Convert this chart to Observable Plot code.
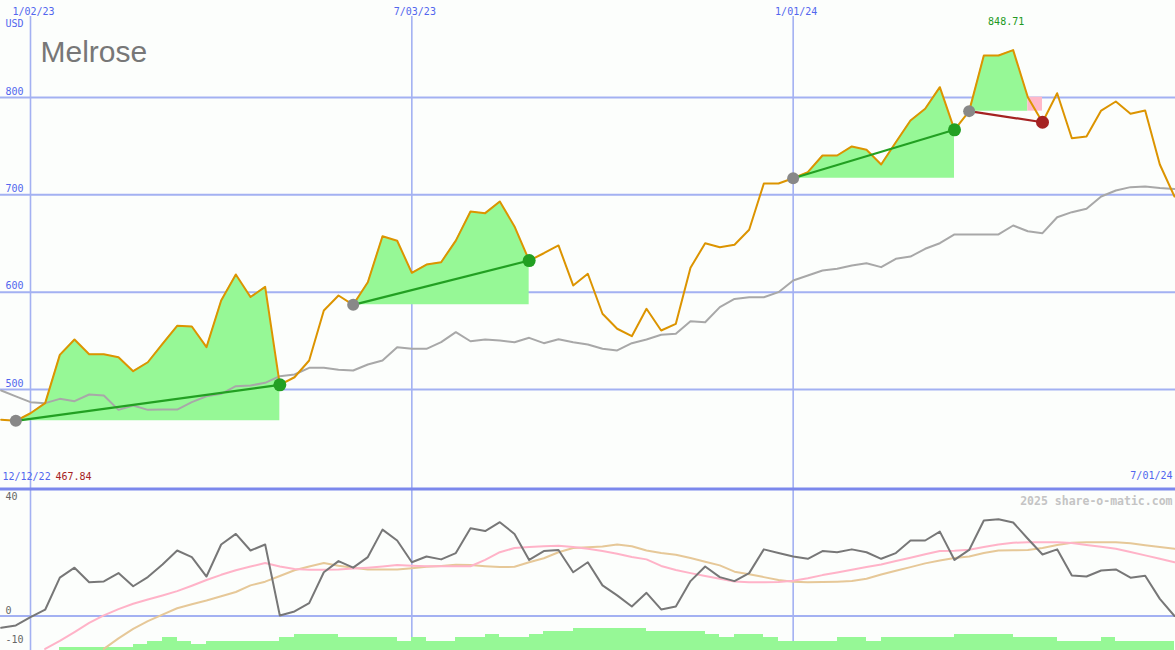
<!DOCTYPE html>
<html><head><meta charset="utf-8">
<script src="https://cdn.jsdelivr.net/npm/d3@7"></script>
<script src="https://cdn.jsdelivr.net/npm/@observablehq/plot@0.6"></script>
<style>
html,body{margin:0;padding:0;background:#fcfefc;}
#chart{width:1175px;height:650px;overflow:hidden;}
#chart svg{display:block;}
</style></head><body><div id="chart"></div>
<script>
// ---- data (weekly, first week 2022-12-19, last 2024-07-01) ----
const firstWeek = [2022, 11, 19];
const price = [469, 467.84, 475.6, 486, 535.6, 551.4, 536.3, 536.3, 533.2, 518.8, 528, 547, 565.4, 564.7, 543.5, 591.4, 618.2, 595, 605.5, 504.8, 512.6, 529.8, 581.2, 596.6, 587, 610.2, 657.5, 652.8, 619.9, 628.4, 630.8, 653, 682.9, 681.2, 693.2, 667.5, 632.5, 640, 648, 606.9, 618.9, 577.8, 562.4, 554.8, 582.9, 560.6, 567.5, 625, 650.3, 646.2, 648.7, 664.1, 711.6, 711.6, 717, 723.3, 740.4, 740.4, 749.7, 746.3, 731.2, 754, 776.4, 788.4, 810.6, 766.8, 786, 843.2, 843.2, 848.71, 800.3, 774.6, 804.4, 758.2, 759.9, 786.6, 795.9, 783.3, 786.6, 731.2, 698.3];
const average = [499, 493, 487, 486, 490.4, 488, 494.9, 493.8, 479.1, 483.6, 479.1, 479.4, 479.4, 487, 493.1, 495.5, 503.4, 504.1, 506.9, 513.7, 515.4, 522.3, 522.3, 520.2, 519.5, 525.7, 529.8, 543.5, 541.8, 541.8, 548.6, 558.9, 549.6, 551.4, 550.3, 548.6, 553.1, 547.6, 551.7, 548.6, 546.2, 541.8, 540.1, 547.6, 551.4, 556.2, 557.2, 570.2, 569.1, 584.6, 593, 594.8, 594.8, 600, 612, 617.1, 622.3, 624, 627.4, 629.8, 625.7, 634.3, 636.6, 644.6, 650.3, 659.3, 659.3, 659.3, 659.3, 668.5, 662.6, 660.6, 677, 682.2, 685.7, 698.3, 704.5, 707.9, 708.6, 707.1, 706.1];
const momentum = [-4.1, -3.3, -0.4, 2.2, 13.4, 16.9, 11.8, 12.1, 15, 10.4, 13.6, 18, 22.9, 20.6, 13.8, 25, 28.7, 22.9, 25, 0.2, 1.6, 4.5, 15.3, 19.2, 16.9, 20.6, 30.2, 26.4, 18.8, 20.8, 19.8, 22, 30.7, 29.7, 32.8, 28.7, 19.6, 22.7, 23.1, 15.3, 18.8, 10.7, 7.2, 3.3, 8.1, 2.3, 3.3, 12.2, 17.3, 13.6, 12.2, 15, 23.3, 22, 20.8, 20, 22.7, 22.3, 23.3, 22.3, 20, 22, 26.4, 26.4, 29.5, 19.6, 23.1, 33.4, 33.8, 32.7, 27, 21.5, 23.3, 14.2, 13.8, 15.9, 16.3, 13.4, 14.1, 6, 0];
const momentumFast = [null, null, null, -11.5, -8.7, -5.6, -2.4, 0.2, 2.4, 4.3, 5.8, 7.2, 8.7, 10.6, 12.6, 14.4, 16, 17.3, 18.5, 17.3, 16.4, 16.2, 16.2, 16.3, 16.6, 16.9, 17.3, 17.8, 17.6, 17.4, 17.4, 17.4, 17.4, 19.6, 22.3, 23.8, 24.1, 24.4, 24.6, 24.1, 23.5, 22.7, 21.8, 20.6, 19.8, 17.5, 16.1, 15, 14, 13, 12.1, 11.8, 11.8, 11.9, 12.3, 13.2, 14.3, 15.2, 16.2, 17.1, 18, 19.2, 20.4, 21.6, 22.7, 22.8, 23.2, 24.1, 25, 25.6, 25.8, 25.8, 25.8, 25.5, 24.8, 24.2, 23.5, 22.4, 21.2, 20, 18.8];
const momentumSlow = [null, null, null, null, null, null, null, -11.5, -7.8, -4.5, -1.8, 0.5, 2.7, 4.1, 5.4, 6.9, 8.4, 10.7, 12, 14, 16, 17.3, 18.5, 17.6, 16.9, 16.3, 16.3, 16.3, 16.7, 17.2, 17.5, 17.9, 17.8, 17.4, 17.1, 17.2, 18.8, 20.2, 22.3, 23.8, 24, 24.3, 25, 24.4, 22.9, 22, 21.4, 20.3, 19, 17.7, 15.5, 14.6, 13.6, 12.6, 12, 11.8, 11.9, 12, 12.2, 13, 14.5, 15.8, 17.1, 18.4, 19.4, 20.3, 20.8, 22, 22.9, 23, 23.1, 23.8, 24.8, 25.6, 25.8, 25.8, 25.8, 25.4, 24.7, 24.1, 23.5];
const volumeLevel = [0, 0, 0, 0, 1, 1, 1, 1, 1, 2, 3, 4, 3, 2, 3, 3, 3, 3, 3, 4, 5, 5, 5, 4, 4, 4, 4, 3, 4, 3, 3, 4, 4, 5, 4, 4, 5, 6, 6, 7, 7, 7, 7, 7, 6, 6, 6, 6, 5, 4, 5, 5, 4, 3, 3, 3, 3, 4, 4, 3, 4, 4, 4, 4, 4, 5, 5, 5, 5, 4, 4, 4, 3, 3, 3, 4, 3, 3, 3, 3, 0];
// trades: index of entry and exit week
const tradeStart = [1, 24, 54, 66];
const tradeEnd = [19, 36, 65, 71];
const tickDates = ["2023-01-02", "2023-07-03", "2024-01-01"];
const tickLabels = ["1/02/23", "7/03/23", "1/01/24"];
const priceTicks = [800, 700, 600, 500];
const lowerTicks = [40, 0, -10];
const title = "Melrose";
const currency = "USD";
const rangeStartLabel = "12/12/22";
const rangeEndLabel = "7/01/24";
const credit = "2025 share-o-matic.com";

// ---- build ----
const dates = price.map((_, i) => new Date(Date.UTC(firstWeek[0], firstWeek[1], firstWeek[2] + 7 * i)));
const rows = dates.map((d, i) => ({
  date: d, next: dates[i + 1], price: price[i], avg: average[i], mom: momentum[i],
  fast: momentumFast[i], slow: momentumSlow[i], vol: volumeLevel[i]
}));
const tickDateObjs = tickDates.map(s => new Date(s + "T00:00:00Z"));

const W = 1175, topH = 487, botH = 163;
const t0 = +tickDateObjs[0], tEnd = +dates[dates.length - 1];
const pxPerMs = (1174 - 30) / (tEnd - t0);
const xDomain = [new Date(t0 - 30 / pxPerMs), new Date(t0 + (W - 30) / pxPerMs)];

const blue = "#5266ee", grid = "#a3b1f2", mono = "DejaVu Sans Mono, monospace";
const green = "#96f896", pink = "#ffb8c8";

const areas = [], pinkRects = [], links = [], starts = [], ends = [];
tradeStart.forEach((s, k) => {
  const e = tradeEnd[k], base = price[s];
  let lastUp = s;
  for (let i = s; i <= e; i++) if (price[i] >= base) lastUp = i; else break;
  rows.slice(s, lastUp + 1).forEach(r => areas.push({trade: k, date: r.date, base, price: r.price}));
  if (lastUp < e) pinkRects.push({x1: dates[lastUp], x2: dates[lastUp + 1], y1: base, y2: price[lastUp]});
  const win = price[e] >= base;
  links.push({x1: dates[s], y1: base, x2: dates[e], y2: price[e], color: win ? "#22a022" : "#a52222"});
  starts.push({date: dates[s], price: base});
  ends.push({date: dates[e], price: price[e], color: win ? "#22a022" : "#a52222"});
});
const maxIdx = price.indexOf(d3.max(price));
const minVal = d3.min(price);

const topChart = Plot.plot({
  width: W, height: topH, marginTop: 16, marginBottom: 0, marginLeft: 0, marginRight: 0,
  x: {type: "utc", domain: xDomain, axis: null},
  y: {domain: [399.32, 883.22], axis: null},
  style: {background: "#fcfefc", fontFamily: mono, fontSize: "10px", overflow: "visible"},
  marks: [
    Plot.ruleY(priceTicks, {stroke: grid, strokeWidth: 2}),
    Plot.ruleX(tickDateObjs, {stroke: grid, strokeWidth: 1.6}),
    Plot.areaY(areas, {x: "date", y1: "base", y2: "price", z: "trade", fill: green}),
    Plot.rect(pinkRects, {x1: "x1", x2: "x2", y1: "y1", y2: "y2", fill: pink}),
    Plot.line(rows, {x: "date", y: "avg", stroke: "#a8a8a8", strokeWidth: 2}),
    Plot.line(rows, {x: "date", y: "price", stroke: "#dc9400", strokeWidth: 2}),
    Plot.link(links, {x1: "x1", y1: "y1", x2: "x2", y2: "y2", stroke: "color", strokeWidth: 2.2}),
    Plot.dot(starts, {x: "date", y: "price", r: 6, fill: "#888888"}),
    Plot.dot(ends, {x: "date", y: "price", r: 6.5, fill: "color"}),
    Plot.text(tickDateObjs, {x: d => d, text: (d, i) => tickLabels[i], frameAnchor: "top", dy: -9, dx: 3, fill: blue, fontSize: 10, fontFamily: mono}),
    Plot.text(priceTicks, {y: d => d, text: d => String(d), frameAnchor: "left", textAnchor: "start", dx: 5, dy: -6, fill: blue, fontSize: 10, fontFamily: mono}),
    Plot.text([currency], {frameAnchor: "top-left", textAnchor: "start", dx: 5, dy: 3, fill: blue, fontSize: 10, fontFamily: mono}),
    Plot.text([title], {frameAnchor: "top-left", textAnchor: "start", lineAnchor: "bottom", dx: 40, dy: 45, fill: "#777777", fontSize: 30, fontFamily: "Liberation Sans, Arial, sans-serif"}),
    Plot.text([rangeStartLabel], {frameAnchor: "bottom-left", textAnchor: "start", dx: 2, dy: -8, fill: blue, fontSize: 10, fontFamily: mono}),
    Plot.text([minVal.toFixed(2)], {frameAnchor: "bottom-left", textAnchor: "start", dx: 55, dy: -8, fill: "#a52222", fontSize: 10, fontFamily: mono}),
    Plot.text([rangeEndLabel], {frameAnchor: "bottom-right", textAnchor: "end", dx: -3, dy: -9, fill: blue, fontSize: 10, fontFamily: mono}),
    Plot.text([rows[maxIdx]], {x: "date", y: "price", text: d => d.price.toFixed(2), dx: -7, dy: -28, fill: "#229922", fontSize: 10, fontFamily: mono})
  ]
});

const yBot = -12.06, yTop = 44.93, levelUnit = 1.1;
const barRows = rows.filter(r => r.vol > 0 && r.next);
const bottomChart = Plot.plot({
  width: W, height: botH, marginTop: 0, marginBottom: 0, marginLeft: 0, marginRight: 0,
  x: {type: "utc", domain: xDomain, axis: null},
  y: {domain: [yBot, yTop], axis: null},
  style: {background: "#fcfefc", fontFamily: mono, fontSize: "10px"},
  marks: [
    Plot.ruleX(tickDateObjs, {stroke: grid, strokeWidth: 1.6}),
    Plot.rect(barRows, {x1: "date", x2: "next", y1: yBot, y2: d => yBot + d.vol * levelUnit, fill: green, shapeRendering: "crispEdges"}),
    Plot.ruleY([0], {stroke: grid, strokeWidth: 2}),
    Plot.line(rows, {x: "date", y: "slow", stroke: "#e6c898", strokeWidth: 2, clip: true}),
    Plot.line(rows, {x: "date", y: "fast", stroke: "#ffb3c8", strokeWidth: 2, clip: true}),
    Plot.line(rows, {x: "date", y: "mom", stroke: "#777777", strokeWidth: 2, clip: true}),
    Plot.ruleY([yTop], {stroke: "#7b88ec", strokeWidth: 3, dy: 1.5}),
    Plot.text(lowerTicks, {y: d => Math.max(d, yBot + 1.05), text: d => String(d), frameAnchor: "left", textAnchor: "start", dx: 5, dy: -5, fill: "#666666", fontSize: 10, fontFamily: mono}),
    Plot.text([credit], {frameAnchor: "top-right", textAnchor: "end", dx: -3, dy: 9, fill: "#c4c4c4", fontSize: 11.5, fontWeight: "bold", fontFamily: mono})
  ]
});

const chart = document.getElementById("chart");
chart.appendChild(topChart);
chart.appendChild(bottomChart);
</script></body></html>
